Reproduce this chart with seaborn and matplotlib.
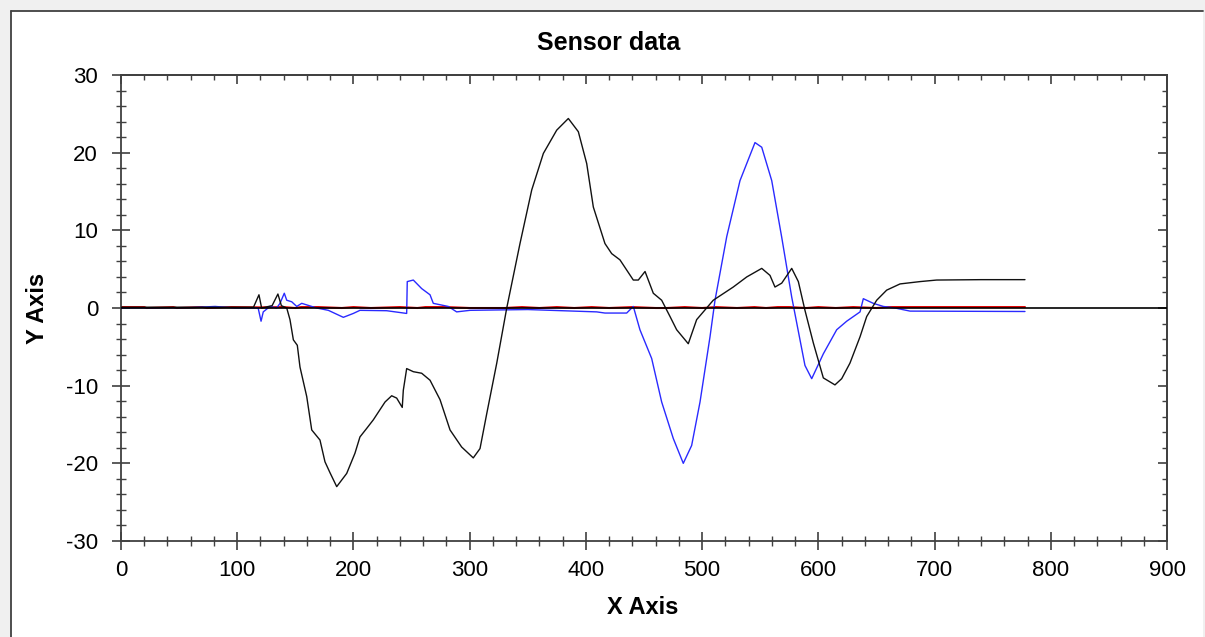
import matplotlib
matplotlib.use("Agg")
import matplotlib.pyplot as plt
import seaborn as sns
import pandas as pd
from matplotlib.patches import Rectangle
from matplotlib.lines import Line2D
from matplotlib.ticker import MultipleLocator

# ---------------- data ----------------
black_x = [0, 60, 100, 114, 118.7, 121, 130, 135, 138, 142.6, 145.4, 148.3, 151.7, 154, 159.8,
           164.1, 171.2, 175.5, 179.8, 185.6, 194.2, 201.3, 205.6, 211.4, 217.1, 222.8, 227.2,
           232.9, 237.2, 242.0, 242.9, 245.8, 251.5, 258.7, 265.9, 274.5, 283.1, 293.1, 303.1,
           308.9, 314.7, 323.3, 331.9, 343.3, 353.4, 363.4, 374.9, 384.9, 393.5, 400.7, 406.4,
           416.4, 422.2, 429.3, 440.8, 445.1, 450.9, 458.0, 465.2, 472.4, 478.1, 488.1, 495.3,
           509.6, 526.8, 538.4, 551.3, 558.4, 562.7, 568.5, 577.1, 582.8, 588.5, 595.7, 604.3,
           614.3, 620.1, 627.2, 635.9, 641.6, 650.2, 658.8, 670.3, 687.5, 701.8, 740, 777.8]
black_y = [0.1, 0.1, 0.1, 0.1, 1.7, 0.0, 0.3, 1.8, 0.3, 0.0, -1.5, -4.1, -4.8, -7.6, -11.4,
           -15.7, -17.0, -19.8, -21.2, -23.0, -21.3, -18.7, -16.6, -15.5, -14.4, -13.1, -12.1,
           -11.3, -11.6, -12.8, -10.6, -7.8, -8.2, -8.4, -9.3, -11.8, -15.7, -17.9, -19.3,
           -18.1, -13.6, -7.1, 0.0, 8.3, 15.2, 19.9, 22.9, 24.4, 22.7, 18.6, 13.0,
           8.3, 7.0, 6.2, 3.6, 3.6, 4.7, 1.9, 1.0, -1.1, -2.8, -4.6, -1.5,
           1.0, 2.7, 4.0, 5.1, 4.2, 2.7, 3.2, 5.1, 3.4, -0.3, -4.5, -9.0,
           -9.9, -9.1, -7.1, -3.7, -1.1, 1.0, 2.3, 3.1, 3.4, 3.6, 3.65, 3.65]

blue_x = [0, 60, 81, 98, 118, 120.5, 122.4, 128.2, 134, 136.8, 140.5, 142.6, 146.9, 151.2,
          155.5, 159.8, 168.4, 178.4, 191.3, 199.9, 205.6, 228.6, 245.8, 246.3, 251.5, 258.7,
          265.9, 268.7, 281.6, 288.8, 300.3, 350, 409.3, 416.4, 435.1, 440.8, 446.5, 456.6,
          465.2, 475.2, 483.8, 491.0, 498.2, 506.8, 511.1, 521.2, 532.6, 545.5, 551.3, 559.9,
          568.5, 577.1, 588.5, 594.3, 604.3, 615.8, 624.4, 635.9, 638.7, 647.3, 655.9, 666.0,
          678.9, 777.8]
blue_y = [0.0, 0.05, 0.2, 0.0, 0.0, -1.7, -0.5, 0.2, 0.0, 0.6, 1.9, 1.0, 0.8, 0.2,
          0.6, 0.4, 0.0, -0.3, -1.2, -0.7, -0.3, -0.35, -0.7, 3.4, 3.6, 2.5,
          1.7, 0.6, 0.2, -0.5, -0.3, -0.2, -0.5, -0.65, -0.65, 0.2, -2.8, -6.5,
          -12.1, -16.8, -20.0, -17.7, -12.1, -3.7, 1.0, 9.2, 16.4, 21.3, 20.7, 16.4,
          9.1, 1.4, -7.4, -9.1, -5.9, -2.8, -1.7, -0.5, 1.2, 0.6, 0.2, 0.0,
          -0.4, -0.45]

red_x = [0, 20, 22, 45, 48, 70, 74, 95, 120, 140, 150, 155, 170, 190, 200, 215, 240, 255, 262,
         280, 300, 330, 345, 360, 375, 390, 405, 420, 440, 460, 470, 485, 500, 512, 530, 545,
         555, 565, 575, 590, 600, 615, 630, 650, 660, 680, 700, 720, 740, 777.8]
red_y = [0.12, 0.12, 0.0, 0.12, 0.0, 0.12, 0.0, 0.12, 0.08, 0.12, 0.0, 0.12, 0.12, 0.0, 0.12, 0.0,
         0.12, 0.0, 0.12, 0.12, 0.0, 0.0, 0.12, 0.0, 0.12, 0.0, 0.12, 0.0, 0.12, 0.0, 0.0, 0.12,
         0.0, 0.12, 0.0, 0.12, 0.0, 0.12, 0.12, 0.0, 0.12, 0.0, 0.12, 0.0, 0.12, 0.12, 0.12, 0.12,
         0.12, 0.12]

x_ticks = [0, 100, 200, 300, 400, 500, 600, 700, 800, 900]
y_ticks = [-30, -20, -10, 0, 10, 20, 30]

title_text = "Sensor data"
x_label = "X Axis"
y_label = "Y Axis"

# ---------------- style ----------------
sns.set_style("white")
plt.rcParams["font.family"] = ["Liberation Sans", "DejaVu Sans"]
plt.rcParams["axes.unicode_minus"] = False
plt.rcParams["text.color"] = "black"

W, H = 1205, 637
fig = plt.figure(figsize=(W / 100, H / 100), dpi=100)
fig.patch.set_facecolor("#f0f0f0")
fig.patches.append(Rectangle((11 / W, -0.05), (1203 - 11) / W, 1.05 - 11 / H,
                             transform=fig.transFigure, facecolor="white",
                             edgecolor="none", zorder=-10))
fig.lines.append(Line2D([11 / W, 1203 / W], [1 - 11 / H, 1 - 11 / H],
                        transform=fig.transFigure, color="#404040", lw=1.3))
fig.lines.append(Line2D([11 / W, 11 / W], [0, 1 - 11 / H],
                        transform=fig.transFigure, color="#404040", lw=1.3))

ax = fig.add_axes([121 / W, 1 - 541 / H, (1167 - 121) / W, (541 - 75) / H])
ax.set_facecolor("white")

df_black = pd.DataFrame({"x": black_x, "y": black_y})
df_blue = pd.DataFrame({"x": blue_x, "y": blue_y})
df_red = pd.DataFrame({"x": red_x, "y": red_y})

sns.lineplot(data=df_red, x="x", y="y", ax=ax, color="#e00000", linewidth=1.5,
             estimator=None, sort=False, zorder=2)
sns.lineplot(data=df_blue, x="x", y="y", ax=ax, color="#2a2aff", linewidth=1.0,
             estimator=None, sort=False, zorder=3)
sns.lineplot(data=df_black, x="x", y="y", ax=ax, color="#111111", linewidth=1.0,
             estimator=None, sort=False, zorder=3)
ax.axhline(0, color="black", lw=1.2, zorder=4)

ax.set_xlim(0, 900)
ax.set_ylim(-30, 30)
ax.set_xticks(x_ticks)
ax.set_yticks(y_ticks)
ax.xaxis.set_minor_locator(MultipleLocator(20))
ax.yaxis.set_minor_locator(MultipleLocator(2))

for s in ax.spines.values():
    s.set_color("#404040")
    s.set_linewidth(1.3)

ax.tick_params(axis="both", which="both", bottom=True, left=True, top=False, right=False)
ax.tick_params(axis="both", which="major", direction="inout", length=13, width=1.2,
               color="#404040", labelsize=16, labelcolor="black")
ax.tick_params(axis="both", which="minor", direction="inout", length=6.5, width=1.0,
               color="#404040")
ax.tick_params(axis="x", which="major", pad=7)
ax.tick_params(axis="y", which="major", pad=10)

# top & right ticks pointing inward
top = ax.secondary_xaxis("top")
top.set_xticks(x_ticks)
top.xaxis.set_minor_locator(MultipleLocator(20))
top.tick_params(which="both", top=True, labeltop=False)
top.tick_params(which="major", direction="in", length=6.5, width=1.2, color="#404040")
top.tick_params(which="minor", direction="in", length=3.5, width=1.0, color="#404040")
right = ax.secondary_yaxis("right")
right.set_yticks(y_ticks)
right.yaxis.set_minor_locator(MultipleLocator(2))
right.tick_params(which="both", right=True, labelright=False)
right.tick_params(which="major", direction="in", length=6.5, width=1.2, color="#404040")
right.tick_params(which="minor", direction="in", length=3.5, width=1.0, color="#404040")
for sp in list(top.spines.values()) + list(right.spines.values()):
    sp.set_color("#404040")
    sp.set_linewidth(1.3)

ax.set_xlabel("")
ax.set_ylabel("")
fig.text(643 / W, 1 - 608 / H, x_label, ha="center", va="center", fontsize=17,
         fontweight="bold", color="black")
fig.text(38 / W, 1 - 308 / H, y_label, ha="center", va="center", fontsize=17,
         fontweight="bold", rotation=90, color="black")
fig.text(609 / W, 1 - 43 / H, title_text, ha="center", va="center", fontsize=18,
         fontweight="bold", color="black")

fig.savefig("out.png", dpi=100, facecolor=fig.get_facecolor())
